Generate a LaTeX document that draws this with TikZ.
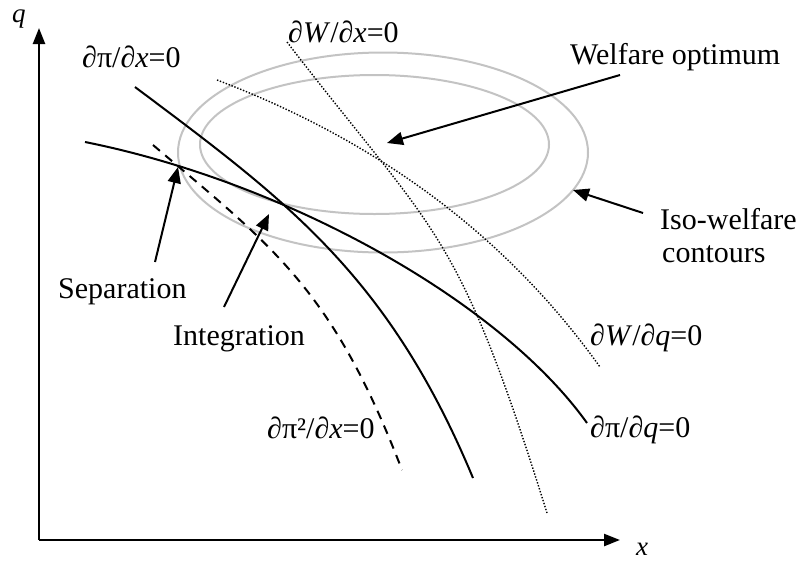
\documentclass[tikz,border=0pt]{standalone}
\usepackage{fontspec}
\setmainfont{Liberation Serif}
\usetikzlibrary{arrows.meta}
\definecolor{ellgray}{RGB}{195,195,195}
\begin{document}
\begin{tikzpicture}[x=1pt,y=-1pt,
  lbl/.style={font=\fontsize{30}{36}\selectfont, inner sep=0pt, anchor=base west},
  axlbl/.style={font=\fontsize{27}{32}\selectfont\itshape, inner sep=0pt, anchor=base west},
  axisline/.style={line width=2.4pt, -{Triangle[length=16pt,width=12pt]}},
  solidcurve/.style={line width=2pt},
  dashcurve/.style={line width=2pt, dash pattern=on 9pt off 7pt},
  dotcurve/.style={line width=1.4pt, dash pattern=on 1.4pt off 1.7pt},
  ellipseline/.style={draw=ellgray, line width=2pt},
  pointer/.style={line width=2pt, -{Triangle[length=16pt,width=13pt]}}
]
\useasboundingbox (0,0) rectangle (803,563);

% axes
\coordinate (O) at (39,540);
\coordinate (Ytip) at (39,28);
\coordinate (Xtip) at (620,540);
\draw[axisline] (O) -- (Ytip);
\draw[axisline] (O) -- (Xtip);
\node[axlbl] (qlab) at (12,22) {q};
\node[axlbl] (xlab) at (636,555) {x};

% iso-welfare contours
\draw[ellipseline] (383,152.5) ellipse [x radius=205, y radius=100];
\draw[ellipseline] (374.5,144.5) ellipse [x radius=174.5, y radius=69.5];

% d pi / dx = 0
\draw[solidcurve] (135,87) .. controls (285,199.5) and (388,274) .. (473,478);
% d pi / dq = 0
\draw[solidcurve] (85,142) .. controls (285,182) and (499,300) .. (587,423);
% d pi^2 / dx = 0
\draw[dashcurve] (153,145) .. controls (273,247) and (332,288) .. (402,470);
% dW/dx = 0
\draw[dotcurve] (287,42) .. controls (437,237) and (457,225) .. (547,513);
% dW/dq = 0
\draw[dotcurve] (217,80) .. controls (367,137) and (500,227) .. (600,367);

% labels
\node[lbl] (dpdx) at (82,67) {∂π/∂\textit{x}=0};
\node[lbl] (dWdx) at (288,42) {∂\textit{W}/∂\textit{x}=0};
\node[lbl] (welf) at (570,64) {Welfare optimum};
\node[lbl] (iso) at (660,229) {Iso-welfare};
\node[lbl] (cont) at (662,262) {contours};
\node[lbl] (sep) at (58,298) {Separation};
\node[lbl] (integ) at (173,345) {Integration};
\node[lbl] (dp2dx) at (267,438) {∂π²/∂\textit{x}=0};
\node[lbl] (dWdq) at (590,345) {∂\textit{W}/∂\textit{q}=0};
\node[lbl] (dpdq) at (590,437) {∂π/∂\textit{q}=0};

% pointers
\coordinate (welfS) at (620,75);
\coordinate (welfT) at (387,143);
\coordinate (isoS) at (643,213);
\coordinate (isoT) at (573,190);
\coordinate (sepS) at (155,262);
\coordinate (sepT) at (178,167);
\coordinate (intS) at (224,307);
\coordinate (intT) at (269,214);
\draw[pointer] (welfS) -- (welfT);
\draw[pointer] (isoS) -- (isoT);
\draw[pointer] (sepS) -- (sepT);
\draw[pointer] (intS) -- (intT);
\end{tikzpicture}
\end{document}
